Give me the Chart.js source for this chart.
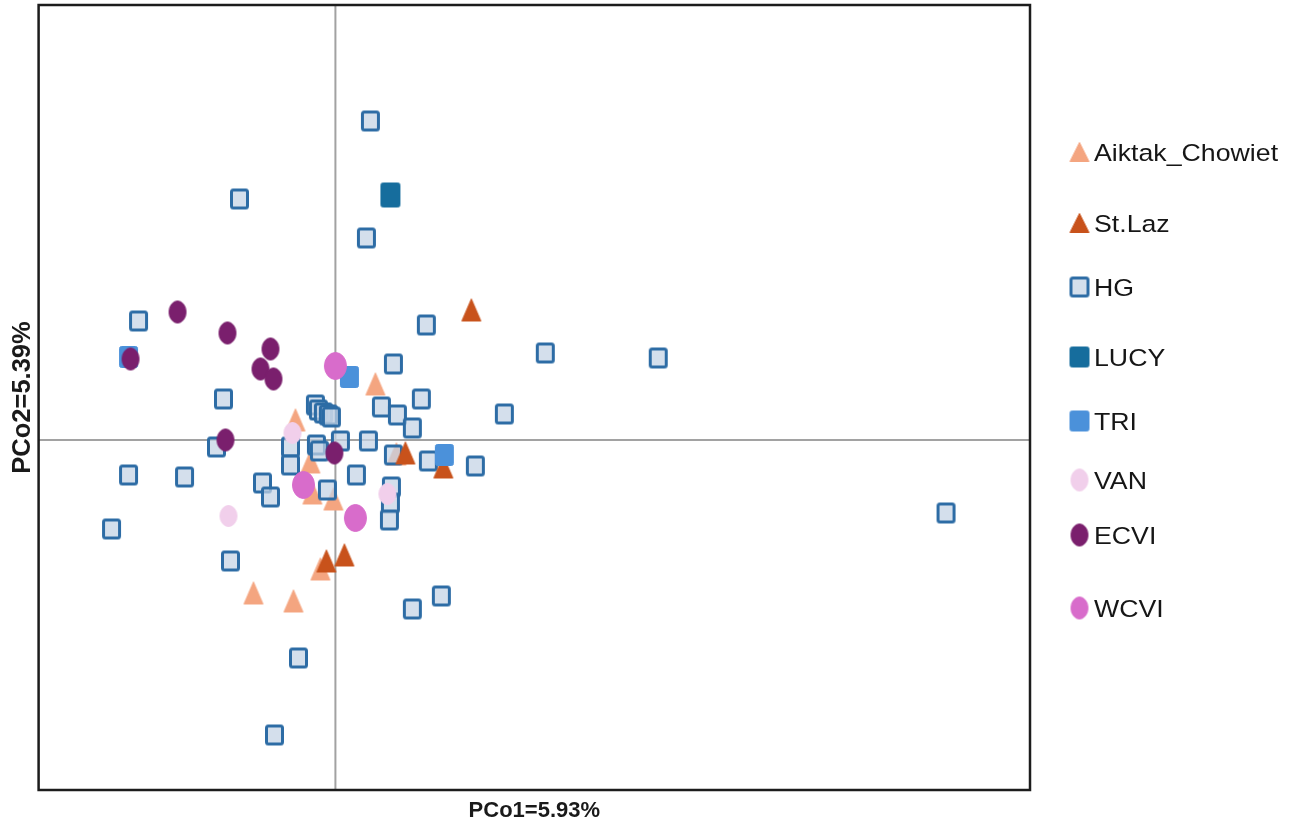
<!DOCTYPE html>
<html>
<head>
<meta charset="utf-8">
<script src="https://cdn.jsdelivr.net/npm/chart.js@4.4.1/dist/chart.umd.min.js"></script>
<style>
  html, body { margin: 0; padding: 0; background: #ffffff; }
  #wrap { width: 1309px; height: 828px; position: relative; }
</style>
</head>
<body>
<div id="wrap"><canvas id="pcoa"></canvas></div>
<script>
// PCoA scores (PCo1, PCo2) per population group
const groups = ['Aiktak_Chowiet', 'St.Laz', 'HG', 'LUCY', 'TRI', 'VAN', 'ECVI', 'WCVI'];

const aiktakChowiet = [
  [0.040, 0.056], [-0.040, 0.020], [-0.025, -0.022], [-0.023, -0.053], [-0.002, -0.059],
  [-0.015, -0.129], [-0.082, -0.153], [-0.042, -0.161], [0.061, -0.014]
];
const stLaz = [
  [0.136, 0.130], [0.070, -0.013], [0.108, -0.027], [-0.009, -0.121], [0.009, -0.115]
];
const hg = [
  [0.035, 0.319], [-0.096, 0.241], [0.031, 0.202], [-0.197, 0.119], [0.091, 0.115],
  [0.210, 0.087], [0.323, 0.082], [0.058, 0.076], [-0.112, 0.041], [0.086, 0.041],
  [0.046, 0.033], [0.062, 0.025], [0.077, 0.012], [0.169, 0.026],
  [-0.020, 0.035], [-0.017, 0.030], [-0.012, 0.027], [-0.007, 0.025], [-0.004, 0.023],
  [-0.119, -0.007], [-0.045, -0.007], [-0.045, -0.025], [-0.151, -0.037], [-0.073, -0.043],
  [-0.065, -0.057], [-0.019, -0.005], [-0.016, -0.011], [0.005, -0.001], [0.033, -0.001],
  [0.021, -0.035], [-0.008, -0.050], [0.058, -0.015], [0.093, -0.021], [0.140, -0.026],
  [0.056, -0.047], [0.055, -0.063], [0.054, -0.080], [-0.207, -0.035], [-0.224, -0.089],
  [-0.105, -0.121], [-0.037, -0.218], [-0.061, -0.295], [0.077, -0.169], [0.106, -0.156],
  [0.611, -0.073]
];
const lucy = [[0.055, 0.245]];
const tri = [[-0.207, 0.083], [0.014, 0.063], [0.109, -0.015]];
const van = [[-0.043, 0.007], [-0.107, -0.076], [0.052, -0.054]];
const ecvi = [
  [-0.158, 0.128], [-0.108, 0.107], [-0.065, 0.091], [-0.075, 0.071], [-0.062, 0.061],
  [-0.205, 0.081], [-0.110, 0.000], [-0.001, -0.013]
];
const wcvi = [[0.000, 0.074], [-0.032, -0.045], [0.020, -0.078]];

const groupScores = [aiktakChowiet, stLaz, hg, lucy, tri, van, ecvi, wcvi];

const xTitle = 'PCo1=5.93%';
const yTitle = 'PCo2=5.39%';

// Marker look for each group: shape, plot size, legend size, colours, draw order
const markerStyles = [
  { shape: 'triangle', w: 20, h: 23, lw: 20, lh: 20, fill: '#f4a580', stroke: '#f4a580', bw: 1, order: 8 },
  { shape: 'triangle', w: 20, h: 23, lw: 20, lh: 20, fill: '#c8521b', stroke: '#c8521b', bw: 1, order: 6 },
  { shape: 'square', w: 19, h: 21, lw: 20, lh: 21, fill: 'rgba(196,211,228,0.72)', stroke: '#2d6ca5', bw: 3, order: 7 },
  { shape: 'square', w: 20, h: 25, lw: 20, lh: 21, fill: '#166d9d', stroke: '#166d9d', bw: 1, order: 5 },
  { shape: 'square', w: 19, h: 22, lw: 20, lh: 21, fill: '#4b91da', stroke: '#4b91da', bw: 1, order: 4 },
  { shape: 'ellipse', w: 18, h: 22, lw: 18, lh: 23, fill: '#f1cfeb', stroke: '#f1cfeb', bw: 1, order: 3 },
  { shape: 'ellipse', w: 18, h: 23, lw: 18, lh: 23, fill: '#7a1f6d', stroke: '#7a1f6d', bw: 1, order: 2 },
  { shape: 'ellipse', w: 23, h: 28, lw: 18, lh: 23, fill: '#d86ccb', stroke: '#d86ccb', bw: 1, order: 1 }
];

// Vertical centre of each legend row
const legendRowY = [152, 223, 287, 357, 421, 480, 535, 608];

function makeMarker(style, w, h) {
  const pad = 2;
  const c = document.createElement('canvas');
  c.width = Math.round(w + pad * 2);
  c.height = Math.round(h + pad * 2);
  const g = c.getContext('2d');
  const cx = c.width / 2, cy = c.height / 2;
  const b = style.bw;
  g.beginPath();
  if (style.shape === 'triangle') {
    g.moveTo(cx, cy - h / 2 + b / 2);
    g.lineTo(cx + w / 2 - b / 2, cy + h / 2 - b / 2);
    g.lineTo(cx - w / 2 + b / 2, cy + h / 2 - b / 2);
    g.closePath();
  } else if (style.shape === 'square') {
    const x0 = cx - w / 2 + b / 2, y0 = cy - h / 2 + b / 2;
    if (g.roundRect) g.roundRect(x0, y0, w - b, h - b, 2);
    else g.rect(x0, y0, w - b, h - b);
  } else {
    g.ellipse(cx, cy, w / 2 - b / 2, h / 2 - b / 2, 0, 0, Math.PI * 2);
  }
  g.fillStyle = style.fill;
  g.fill();
  g.lineJoin = 'round';
  g.lineWidth = b;
  g.strokeStyle = style.stroke;
  g.stroke();
  return c;
}

const plotMarkers = markerStyles.map(s => makeMarker(s, s.w, s.h));
const legendMarkers = markerStyles.map(s => makeMarker(s, s.lw, s.lh));

const datasets = groups.map((name, i) => ({
  label: name,
  data: groupScores[i].map(([x, y]) => ({ x, y })),
  pointStyle: plotMarkers[i],
  pointRadius: 10,
  pointHoverRadius: 10,
  backgroundColor: markerStyles[i].fill,
  borderColor: markerStyles[i].stroke,
  order: markerStyles[i].order
}));

// Zero axes, plot frame and the side legend
const pcoaDecor = {
  id: 'pcoaDecor',
  beforeDatasetsDraw(chart) {
    const { ctx, chartArea: a, scales } = chart;
    const x0 = scales.x.getPixelForValue(0);
    const y0 = scales.y.getPixelForValue(0);
    ctx.save();
    ctx.strokeStyle = '#a2a2a2';
    ctx.lineWidth = 2;
    ctx.beginPath();
    ctx.moveTo(x0, a.top); ctx.lineTo(x0, a.bottom);
    ctx.moveTo(a.left, y0); ctx.lineTo(a.right, y0);
    ctx.stroke();
    ctx.restore();
  },
  afterDatasetsDraw(chart) {
    const { ctx, chartArea: a } = chart;
    ctx.save();
    ctx.strokeStyle = '#1c1c1c';
    ctx.lineWidth = 2.5;
    ctx.strokeRect(a.left, a.top, a.right - a.left, a.bottom - a.top);
    ctx.restore();
  },
  afterDraw(chart) {
    const { ctx } = chart;
    const markerX = 1079.5;
    const textX = 1094;
    const fontSize = 24.5;
    ctx.save();
    ctx.font = fontSize + 'px "Liberation Sans", Arial, sans-serif';
    ctx.fillStyle = '#161616';
    ctx.textAlign = 'left';
    ctx.textBaseline = 'alphabetic';
    chart.data.datasets.forEach((ds, i) => {
      const yc = legendRowY[i];
      const m = legendMarkers[i];
      ctx.drawImage(m, markerX - m.width / 2, yc - m.height / 2);
      ctx.save();
      ctx.translate(textX, yc + fontSize * 0.358);
      ctx.scale(1.09, 1);
      ctx.fillText(ds.label, 0, 0);
      ctx.restore();
    });
    ctx.restore();
  }
};

new Chart(document.getElementById('pcoa'), {
  type: 'scatter',
  data: { datasets },
  options: {
    responsive: true,
    maintainAspectRatio: false,
    animation: false,
    layout: { autoPadding: false, padding: { left: 3, top: 5, right: 279, bottom: 2 } },
    plugins: {
      legend: { display: false },
      tooltip: { enabled: false }
    },
    scales: {
      x: {
        type: 'linear',
        min: -0.297,
        max: 0.695,
        grid: { display: false, drawTicks: false },
        border: { display: false },
        ticks: { display: false },
        title: {
          display: true,
          text: xTitle,
          color: '#1a1a1a',
          font: { family: '"Liberation Sans", Arial, sans-serif', size: 22, weight: 'bold' },
          padding: { top: 7.6, bottom: 2 }
        }
      },
      y: {
        type: 'linear',
        min: -0.35,
        max: 0.435,
        grid: { display: false, drawTicks: false },
        border: { display: false },
        ticks: { display: false },
        title: {
          display: true,
          text: yTitle,
          color: '#1a1a1a',
          font: { family: '"Liberation Sans", Arial, sans-serif', size: 25.5, weight: 'bold' },
          padding: { top: 5, bottom: 0 }
        }
      }
    }
  },
  plugins: [pcoaDecor]
});
</script>
</body>
</html>
